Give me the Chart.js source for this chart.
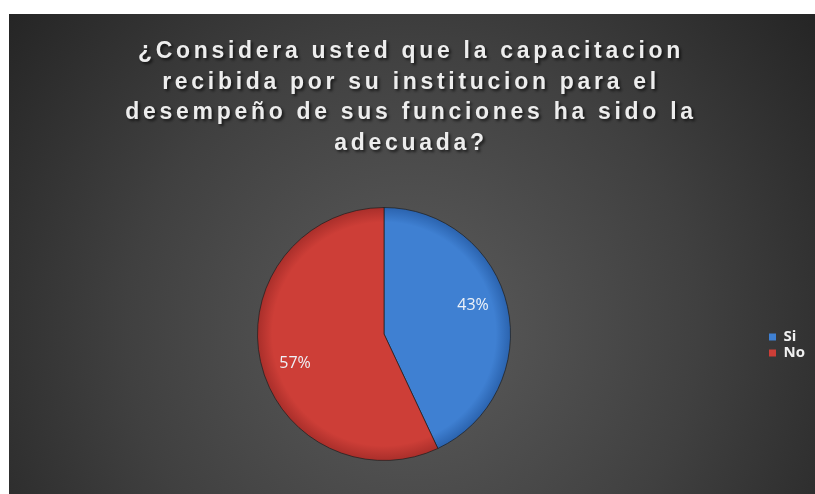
<!DOCTYPE html>
<html>
<head>
<meta charset="utf-8">
<script src="https://cdn.jsdelivr.net/npm/chart.js@4"></script>
<style>
  html, body { margin: 0; padding: 0; background: #ffffff; }
  canvas { display: block; }
</style>
</head>
<body>
<canvas id="chart" width="815" height="494"></canvas>
<script>
// Survey answers and their share of responses (percent)
const answers = ['Si', 'No'];
const shares = [43, 57];
const sliceColors = ['#3f80d2', '#cd3e37'];
const sliceEdges = ['#2a62ad', '#a82e2a'];

const titleLines = [
  '¿Considera usted que la capacitacion',
  'recibida por su institucion para el',
  'desempeño de sus funciones ha sido la',
  'adecuada?'
];

// Dark panel with a soft lighter centre, plus the multi-line heading
const panelPlugin = {
  id: 'panel',
  beforeDraw(chart) {
    const { ctx, width, height } = chart;
    ctx.save();
    ctx.fillStyle = '#ffffff';
    ctx.fillRect(0, 0, width, height);
    const g = ctx.createRadialGradient(412, 330, 0, 412, 330, 520);
    g.addColorStop(0, '#5c5c5c');
    g.addColorStop(0.55, '#404040');
    g.addColorStop(1, '#242424');
    ctx.fillStyle = g;
    ctx.fillRect(9, 14, width - 9, height - 14);

    ctx.font = 'bold 23px "Liberation Sans", Arial, sans-serif';
    ctx.letterSpacing = '3.7px';
    ctx.textAlign = 'center';
    ctx.textBaseline = 'alphabetic';
    ctx.shadowColor = 'rgba(0,0,0,0.65)';
    ctx.shadowOffsetX = 2;
    ctx.shadowOffsetY = 2;
    ctx.shadowBlur = 3;
    ctx.fillStyle = '#ededed';
    titleLines.forEach((line, i) => {
      ctx.fillText(line, 411, 58 + i * 30.6);
    });
    ctx.restore();
  }
};

// Percentage text inside each slice
const sliceLabels = {
  id: 'sliceLabels',
  afterDatasetsDraw(chart) {
    const { ctx } = chart;
    const arcs = chart.getDatasetMeta(0).data;
    ctx.save();
    ctx.font = '16px "Open Sans", sans-serif';
    ctx.fillStyle = '#eef2f8';
    ctx.textAlign = 'center';
    ctx.textBaseline = 'middle';
    arcs.forEach((arc, i) => {
      const mid = (arc.startAngle + arc.endAngle) / 2 - 0.095;
      const r = arc.outerRadius * 0.74;
      ctx.fillText(shares[i] + '%', arc.x + Math.cos(mid) * r, arc.y + Math.sin(mid) * r);
    });
    ctx.restore();
  }
};

function sliceFill(context) {
  const chart = context.chart;
  const area = chart.chartArea;
  const i = context.dataIndex;
  if (!area) return sliceColors[i];
  const cx = (area.left + area.right) / 2;
  const cy = (area.top + area.bottom) / 2;
  const r = Math.min(area.width, area.height) / 2;
  const g = chart.ctx.createRadialGradient(cx, cy, 0, cx, cy, r);
  g.addColorStop(0, sliceColors[i]);
  g.addColorStop(0.88, sliceColors[i]);
  g.addColorStop(1, sliceEdges[i]);
  return g;
}

new Chart(document.getElementById('chart'), {
  type: 'pie',
  data: {
    labels: answers,
    datasets: [{
      data: shares,
      backgroundColor: sliceFill,
      borderColor: 'rgba(30,30,30,0.7)',
      borderWidth: 1
    }]
  },
  options: {
    responsive: false,
    devicePixelRatio: 1,
    animation: false,
    layout: { padding: { top: 207, bottom: 33, left: 0, right: 0 } },
    plugins: {
      tooltip: { enabled: false },
      legend: {
        position: 'right',
        // blank title only pushes the entries a little below centre
        title: { display: true, text: ' ', font: { size: 10 }, padding: 5 },
        labels: {
          color: '#f0f0f0',
          boxWidth: 7,
          boxHeight: 7,
          padding: 1,
          font: { family: '"Open Sans", sans-serif', size: 15, weight: 'bold', lineHeight: 1 },
          generateLabels(chart) {
            return answers.map((a, i) => ({
              text: a,
              fillStyle: sliceColors[i],
              strokeStyle: sliceColors[i],
              lineWidth: 0,
              fontColor: '#f0f0f0',
              index: i
            }));
          }
        }
      }
    }
  },
  plugins: [panelPlugin, sliceLabels]
});
</script>
</body>
</html>
